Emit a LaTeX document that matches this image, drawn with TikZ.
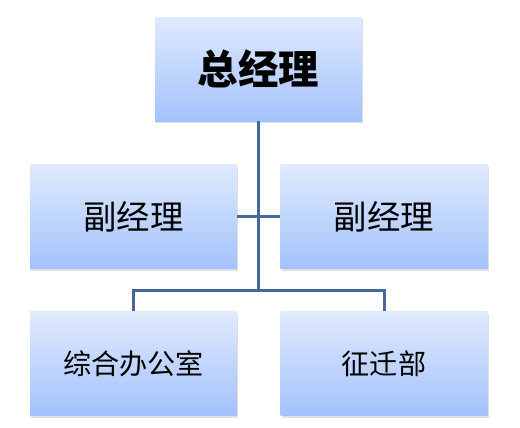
\documentclass[tikz,border=0pt]{standalone}
\usepackage{fontspec}
\newfontfamily\cjk{Noto Sans CJK SC}
\usetikzlibrary{shadows}
\definecolor{boxtop}{HTML}{E0EAFD}
\definecolor{boxbot}{HTML}{A3C2FC}
\definecolor{linkblue}{HTML}{46699A}
\tikzset{
    post/.style={rectangle, minimum width=4.14cm, minimum height=2.08cm,
        top color=boxtop, bottom color=boxbot, inner sep=0pt,
        drop shadow={opacity=0.25, shadow xshift=0.6pt, shadow yshift=-1.2pt},
        font=\cjk},
    link/.style={draw=linkblue, line width=1.7pt}
}

\begin{document}
\begin{tikzpicture}
    \useasboundingbox (0,0) rectangle (10.4,-8.54);
    \node[post, font=\cjk\bfseries\fontsize{23}{27}\selectfont] (zjl) at (5.17,-1.38) {总经理};
    \node[post, font=\cjk\fontsize{19}{23}\selectfont] (fjlA) at (2.67,-4.33) {副经理};
    \node[post, font=\cjk\fontsize{19}{23}\selectfont] (fjlB) at (7.68,-4.33) {副经理};
    \node[post, font=\cjk\fontsize{16}{20}\selectfont] (zhb) at (2.67,-7.27) {综合办公室};
    \node[post, font=\cjk\fontsize{16}{20}\selectfont] (zqb) at (7.68,-7.27) {征迁部};
    % connectors
    \coordinate (bus) at (5.17,-5.8);
    \draw[link] (zjl.south) -- (bus);
    \draw[link] (fjlA.east) -- (fjlB.west);
    \draw[link] (zhb.north) |- (bus) -| (zqb.north);
\end{tikzpicture}
\end{document}
